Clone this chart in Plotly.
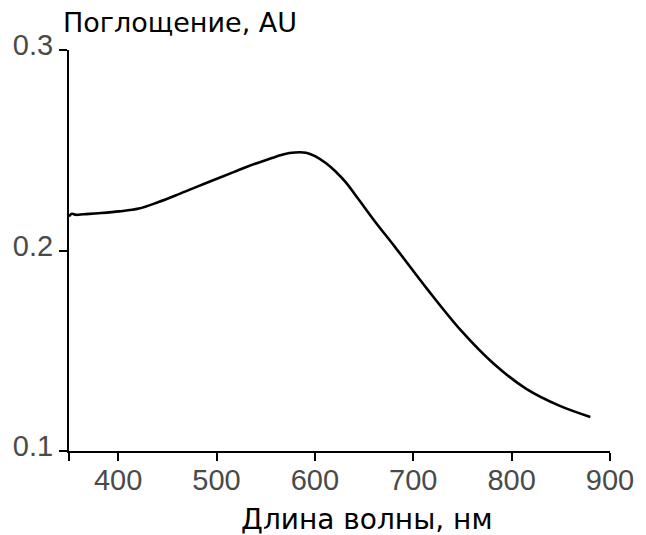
import plotly.graph_objects as go

# Absorption spectrum
wavelength_nm = [350, 353, 357, 365, 380, 401, 421, 441, 461, 481, 501, 518, 531,
                 546, 561, 574, 591, 601, 611, 621, 631, 644, 661, 681.5, 714.6,
                 748.7, 781.8, 814.9, 849, 880]
absorbance_au = [0.2170, 0.2183, 0.2178, 0.2181, 0.2186, 0.2195, 0.2209, 0.2242,
                 0.2280, 0.2320, 0.2359, 0.2392, 0.2418, 0.2444, 0.2469, 0.2486,
                 0.2488, 0.2468, 0.2436, 0.2394, 0.2342, 0.2258, 0.2145, 0.2017,
                 0.1805, 0.1600, 0.1435, 0.1310, 0.1225, 0.1170]

x_ticks = [350, 400, 500, 600, 700, 800, 900]
x_tick_text = ["", "400", "500", "600", "700", "800", "900"]
y_ticks = [0.1, 0.2, 0.3]
y_tick_text = ["0.1", "0.2", "0.3"]

y_title = "Поглощение, AU"
x_title = "Длина волны, нм"

TICK_FONT = "Liberation Sans, Arial, sans-serif"
TITLE_FONT = "DejaVu Sans, sans-serif"
TICK_COLOR = "#4a4a4a"

fig = go.Figure()
fig.add_trace(go.Scatter(
    x=wavelength_nm, y=absorbance_au, mode="lines",
    line=dict(color="black", width=2.6, shape="spline", smoothing=1.0),
    hoverinfo="skip", showlegend=False,
))

axis_common = dict(
    showgrid=False, zeroline=False, showline=True, linecolor="black", linewidth=2,
    ticks="outside", ticklen=8, tickwidth=1.6, tickcolor="black",
    tickfont=dict(family=TICK_FONT, size=29, color=TICK_COLOR),
)

fig.update_xaxes(range=[350, 900], tickvals=x_ticks, ticktext=x_tick_text,
                 ticklabelstandoff=-6, **axis_common)
fig.update_yaxes(range=[0.1, 0.3], tickvals=y_ticks, ticktext=y_tick_text,
                 ticklabelshift=-5, **axis_common)

fig.add_annotation(
    text=y_title, xref="paper", yref="paper", x=-0.014, y=1.0,
    xanchor="left", yanchor="bottom", yshift=10, showarrow=False,
    font=dict(family=TITLE_FONT, size=27, color="black"),
)
fig.add_annotation(
    text=x_title, xref="paper", yref="paper", x=0.55, y=0.0,
    xanchor="center", yanchor="top", yshift=-50, showarrow=False,
    font=dict(family=TITLE_FONT, size=28, color="black"),
)

fig.update_layout(
    width=646, height=535,
    margin=dict(l=69, r=28, t=50, b=84),
    plot_bgcolor="white", paper_bgcolor="white",
)

fig.write_html("out.html")
